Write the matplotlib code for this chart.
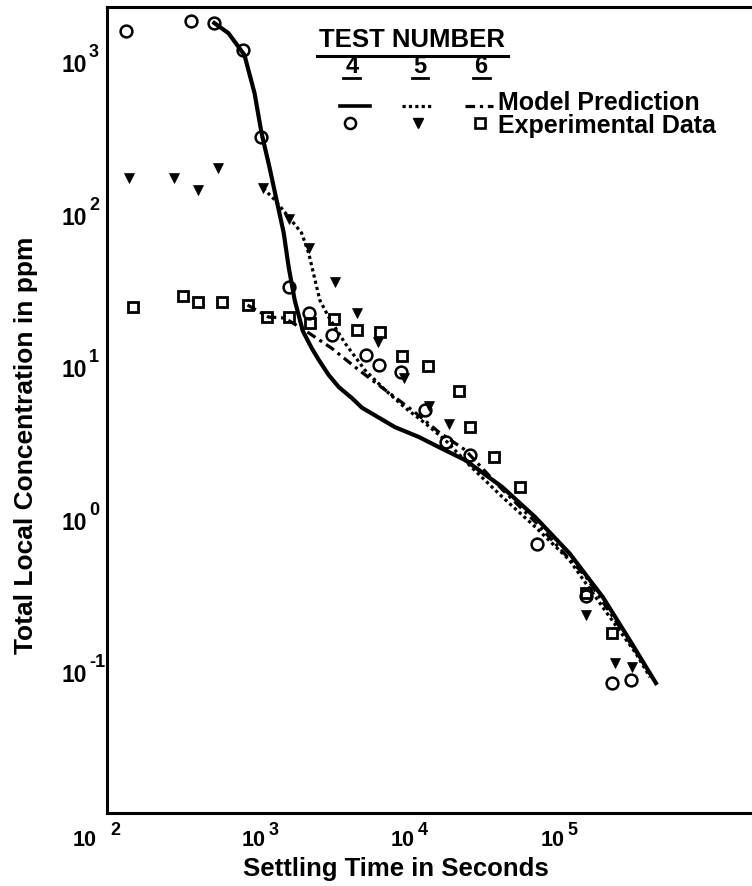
import numpy as np
import matplotlib
matplotlib.use("Agg")
import matplotlib.pyplot as plt
import matplotlib.transforms as mtransforms
from matplotlib.lines import Line2D
from matplotlib.ticker import FixedLocator, NullLocator

plt.rcParams['font.family'] = ['Liberation Sans', 'DejaVu Sans']
plt.rcParams['font.weight'] = 'bold'

# experimental data, test 4 (circles)
t4_time = [134, 366, 522, 818, 1065, 1640, 2230, 3180, 5400, 6600, 9250, 13400,
           18500, 26900, 75700, 159000, 238000, 318000]
t4_conc = [1620, 1880, 1830, 1220, 327, 34, 23, 16.4, 12.2, 10.5, 9.4, 5.3,
           3.3, 2.69, 0.70, 0.32, 0.086, 0.090]

# experimental data, test 5 (triangles)
t5_time = [141, 282, 408, 556, 1110, 1660, 2230, 3330, 4690, 6490, 9700, 14300,
           19400, 161000, 249000, 324000]
t5_conc = [176, 176, 147, 205, 151, 95, 61, 36.6, 23, 14.8, 8.6, 5.6,
           4.3, 0.24, 0.116, 0.109]

# experimental data, test 6 (squares)
t6_time = [149, 324, 408, 591, 871, 1170, 1660, 2270, 3290, 4690, 6700, 9400,
           14100, 22700, 26900, 39000, 58200, 159000, 238000]
t6_conc = [25.1, 29.6, 27.1, 27.1, 25.9, 21.6, 21.6, 19.7, 20.9, 17.7, 17.2, 12.0,
           10.3, 7.1, 4.1, 2.6, 1.66, 0.335, 0.183]

# model predictions
m4_time = [522, 649, 830, 970, 1080, 1220, 1360, 1520, 1640, 1800, 2040, 2340, 2610,
           3040, 3550, 4350, 5070, 8430, 12200, 16600, 24900, 44000, 73400, 124000,
           207000, 314000, 469000]
m4_conc = [1830, 1570, 1130, 635, 348, 208, 127, 77, 46, 27.9, 17.5, 13.5, 11.3,
           9.0, 7.5, 6.35, 5.5, 4.1, 3.53, 3.03, 2.49, 1.66, 1.05, 0.61,
           0.315, 0.164, 0.086]

m5_time = [1110, 1320, 1640, 2000, 2230, 2650, 3040, 3900, 5310, 7230, 9840, 13400,
           18300, 26500, 44000, 73400, 124000, 207000, 344000, 428000]
m5_conc = [151, 127, 98, 77, 57, 27.9, 21.6, 14.6, 9.7, 7.2, 5.5, 4.35,
           3.37, 2.31, 1.43, 0.906, 0.55, 0.27, 0.135, 0.094]

m6_time = [871, 1205, 1540, 2100, 3180, 4840, 7230, 11000, 16600, 24900, 33900,
           44000, 73400, 159000, 269000, 428000]
m6_conc = [25.9, 21.6, 21.3, 17.7, 13.5, 9.7, 7.2, 5.3, 3.8, 2.9, 2.1,
           1.6, 0.977, 0.43, 0.20, 0.100]

x_ticks = [1e2, 1e3, 1e4, 1e5]
x_exps = ['2', '3', '4', '5']
y_ticks = [1e-1, 1e0, 1e1, 1e2, 1e3]
y_exps = ['-1', '0', '1', '2', '3']

W, H = 752, 886
FONT = dict(family='Liberation Sans', fontweight='bold')


def fx(px):
    return px / W


def fy(py):
    return 1 - py / H


fig = plt.figure(figsize=(W / 100, H / 100), dpi=100)
ax = fig.add_axes([fx(107), 73 / H, 645 / W, 806 / H])
ax.set_xscale('log')
ax.set_yscale('log')
ax.set_xlim(100, 2.06e6)
ax.set_ylim(0.0121, 2330)

dot = (0, (1, 1))
dashdot = (0, (3, 1.5, 1, 1.5))

ax.plot(m4_time, m4_conc, color='black', lw=3.0, ls='-', zorder=2)
ax.plot(m5_time, m5_conc, color='black', lw=2.3, ls=dot, zorder=2)
ax.plot(m6_time, m6_conc, color='black', lw=2.3, ls=dashdot, zorder=2)

ax.plot(t4_time, t4_conc, ls='none', marker='o', ms=8.5, mfc='none', mec='black', mew=1.8, zorder=3)
ax.plot(t5_time, t5_conc, ls='none', marker='v', ms=7.5, mfc='black', mec='black', mew=0.5, zorder=3)
ax.plot(t6_time, t6_conc, ls='none', marker='s', ms=7, mfc='none', mec='black', mew=2.0, zorder=3)

ax.xaxis.set_major_locator(FixedLocator(x_ticks))
ax.yaxis.set_major_locator(FixedLocator(y_ticks))
ax.xaxis.set_minor_locator(NullLocator())
ax.yaxis.set_minor_locator(NullLocator())
ax.tick_params(axis='both', length=0, labelbottom=False, labelleft=False)

# tick labels typeset as "10" plus a raised exponent, like the original
xt = ax.get_xaxis_transform()
for i, (t, e) in enumerate(zip(x_ticks, x_exps)):
    if i == 0:
        base_dx, exp_dx = -10, 3
    else:
        base_dx, exp_dx = 9, 12
    ax.text(t, 0, '10', fontsize=15.5, ha='right', va='baseline',
            transform=mtransforms.offset_copy(xt, fig=fig, x=base_dx, y=-33, units='dots'), **FONT)
    ax.text(t, 0, e, fontsize=13, ha='left', va='baseline',
            transform=mtransforms.offset_copy(xt, fig=fig, x=exp_dx, y=-22, units='dots'), **FONT)

yt = ax.get_yaxis_transform()
for t, e in zip(y_ticks, y_exps):
    ax.text(0, t, '10', fontsize=16.5, ha='right', va='baseline',
            transform=mtransforms.offset_copy(yt, fig=fig, x=-20, y=-9, units='dots'), **FONT)
    ax.text(0, t, e, fontsize=13, ha='left', va='baseline',
            transform=mtransforms.offset_copy(yt, fig=fig, x=-18, y=6, units='dots'), **FONT)

for side in ['left', 'bottom', 'top']:
    ax.spines[side].set_linewidth(2.2)
ax.spines['right'].set_visible(False)

ax.set_xlabel('Settling Time in Seconds', fontsize=18.5, **FONT)
ax.xaxis.set_label_coords((396 - 107) / 645, (813 - 857) / 806)
ax.set_ylabel('Total Local Concentration in ppm', fontsize=19, **FONT)
ax.yaxis.set_label_coords((38 - 107) / 645, (813 - 445) / 806)

# legend block drawn by hand
fig.text(fx(412), fy(47), 'TEST NUMBER', fontsize=18.5, ha='center', va='baseline', **FONT)
fig.add_artist(Line2D([fx(317), fx(508)], [fy(56), fy(56)], color='black', lw=2.2, transform=fig.transFigure))

for num, cx, u0, u1 in [('4', 352, 343, 360), ('5', 420, 412, 428), ('6', 481, 473, 490)]:
    fig.text(fx(cx), fy(73), num, fontsize=17, ha='center', va='baseline', **FONT)
    fig.add_artist(Line2D([fx(u0), fx(u1)], [fy(78), fy(78)], color='black', lw=2.0, transform=fig.transFigure))

fig.add_artist(Line2D([fx(340), fx(370)], [fy(106), fy(106)], color='black', lw=2.6, ls='-', transform=fig.transFigure))
fig.add_artist(Line2D([fx(402), fx(433)], [fy(106), fy(106)], color='black', lw=2.3, ls=dot, transform=fig.transFigure))
fig.add_artist(Line2D([fx(465), fx(493)], [fy(106), fy(106)], color='black', lw=2.3, ls=dashdot, transform=fig.transFigure))

fig.add_artist(Line2D([fx(350)], [fy(123)], ls='none', marker='o', ms=8, mfc='none', mec='black', mew=1.8, transform=fig.transFigure))
fig.add_artist(Line2D([fx(418)], [fy(123)], ls='none', marker='v', ms=7, mfc='black', mec='black', transform=fig.transFigure))
fig.add_artist(Line2D([fx(480)], [fy(123)], ls='none', marker='s', ms=6.5, mfc='none', mec='black', mew=1.9, transform=fig.transFigure))

fig.text(fx(498), fy(110), 'Model Prediction', fontsize=18, ha='left', va='baseline', **FONT)
fig.text(fx(498), fy(133), 'Experimental Data', fontsize=18, ha='left', va='baseline', **FONT)

fig.savefig('out.png', dpi=100)
